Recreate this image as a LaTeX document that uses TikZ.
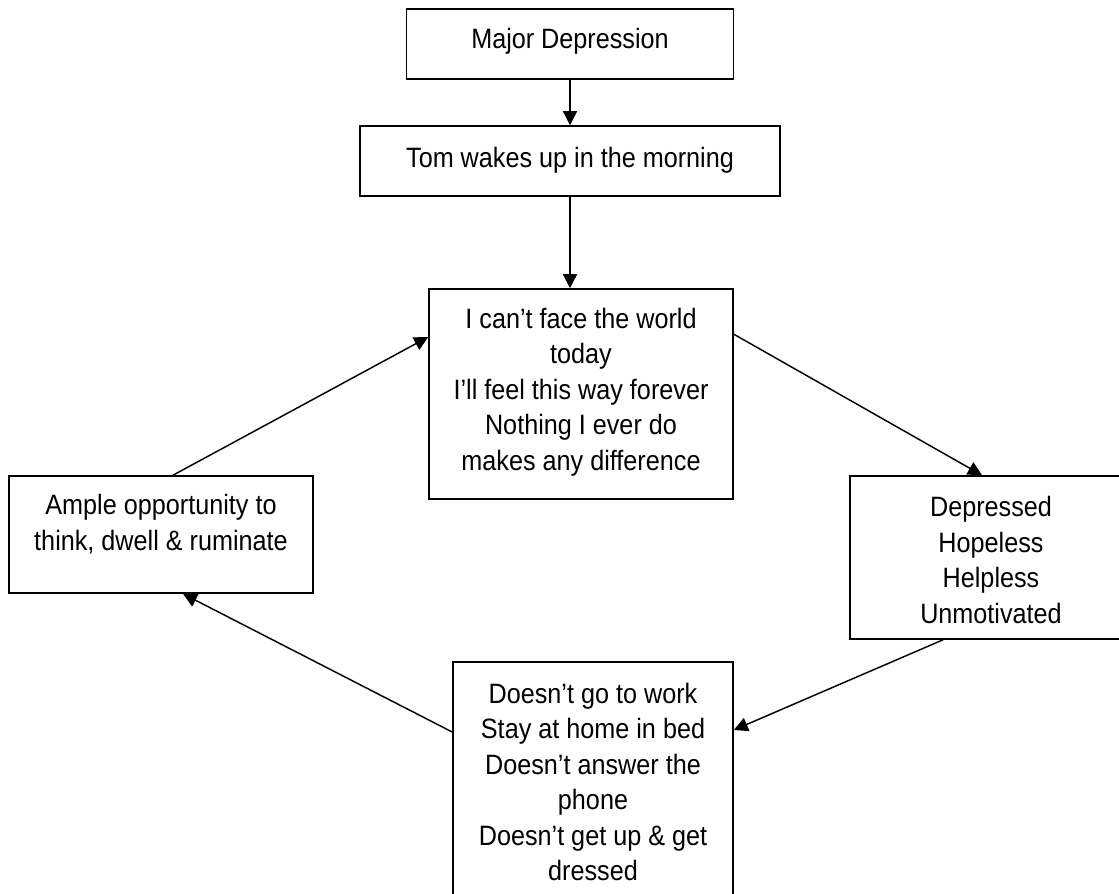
\documentclass[tikz,border=0pt]{standalone}
\usepackage{fontspec}
\setmainfont{Liberation Sans}[FakeStretch=0.9]
\usetikzlibrary{arrows.meta}
\begin{document}
\begin{tikzpicture}[x=0.75pt,y=-0.75pt,
  box/.style={draw=black,line width=1.2pt,inner sep=0pt,fill=none},
  txt/.style={align=center,inner sep=0pt,font=\fontsize{21}{26.6}\selectfont,text=black},
  conn/.style={draw=black,line width=1.1pt,-{Triangle[length=10.5pt,width=10.5pt]}}]
\useasboundingbox (0,0) rectangle (1119,893);
\clip (0,0) rectangle (1119,893);
\fill[white] (0,0) rectangle (1119,893);
% boxes
\node[box,minimum width=245.25pt,minimum height=52.5pt] (md) at (570,44) {};
\node[box,minimum width=315pt,minimum height=52.5pt] (tom) at (570,161) {};
\node[box,minimum width=228pt,minimum height=157.5pt] (cen) at (581,394) {};
\node[box,minimum width=211.5pt,minimum height=122.25pt] (rgt) at (991,557.5) {};
\node[box,minimum width=210pt,minimum height=180pt] (bot) at (593,782) {};
\node[box,minimum width=228pt,minimum height=87.75pt] (lft) at (161,534.5) {};
% texts
\node[txt] (mdt) at (570,41) {Major Depression};
\node[txt] (tomt) at (570,160) {Tom wakes up in the morning};
\node[txt] (cent) at (581,392) {I can’t face the world\\today\\I’ll feel this way forever\\Nothing I ever do\\makes any difference};
\node[txt] (rgtt) at (991,560) {Depressed\\Hopeless\\Helpless\\Unmotivated};
\node[txt] (bott) at (593,782) {Doesn’t go to work\\Stay at home in bed\\Doesn’t answer the\\phone\\Doesn’t get up \& get\\dressed};
\node[txt] (lftt) at (161,524) {Ample opportunity to\\think, dwell \& ruminate};
% connectors
\draw[conn] (md.south) -- (tom.north);
\draw[conn] (tom.south) -- (tom.south |- cen.north);
\draw[conn] ([yshift=-34.5pt]cen.north east) -- ([xshift=-6.75pt]rgt.north);
\draw[conn] ([xshift=-36pt]rgt.south) -- ([yshift=39pt]bot.east);
\draw[conn] ([yshift=37.5pt]bot.west) -- ([xshift=16.5pt]lft.south);
\draw[conn] ([xshift=9pt]lft.north) -- ([yshift=42.75pt]cen.west);
\end{tikzpicture}
\end{document}
